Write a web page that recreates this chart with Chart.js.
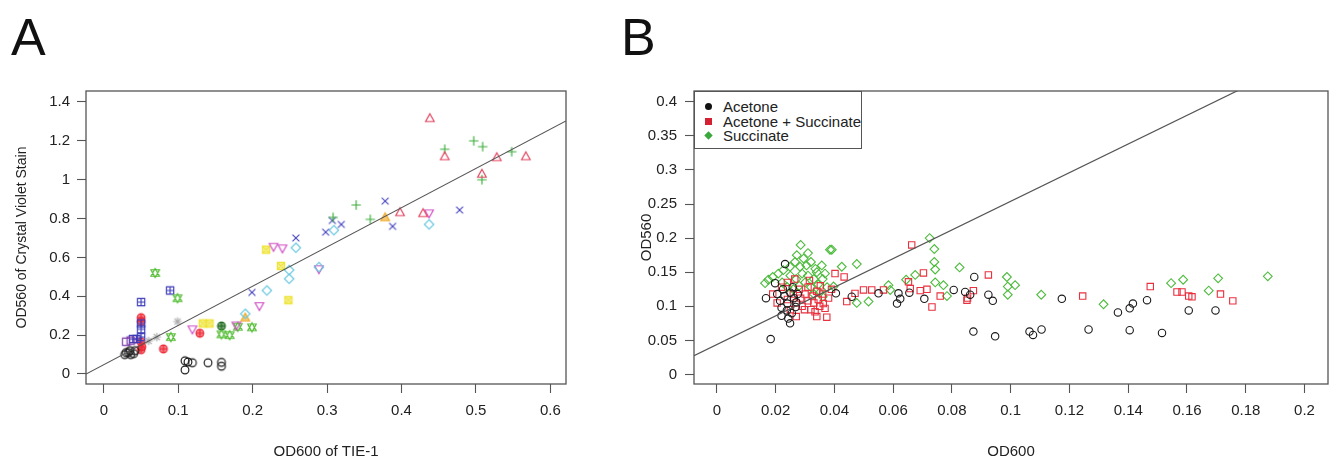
<!DOCTYPE html>
<html>
<head>
<meta charset="utf-8">
<script src="https://cdn.jsdelivr.net/npm/chart.js@4.4.1/dist/chart.umd.min.js"></script>
<style>
  html, body { margin: 0; padding: 0; background: #fff; overflow: hidden; }
  #page { position: relative; width: 1337px; height: 461px; font-family: "Liberation Sans", Arial, sans-serif; }
  .panel { position: absolute; font-size: 52px; line-height: 1; color: #111; }
  #wrapA { position: absolute; left: 0; top: 0; width: 620px; height: 461px; }
  #wrapB { position: absolute; left: 620px; top: 0; width: 717px; height: 461px; }
  #legendB { position: absolute; left: 694px; top: 91px; width: 168px; height: 58px; border: 1.3px solid #555; background: #fff; box-sizing: border-box; font-size: 15px; color: #222; }
  .lrow { position: absolute; left: 0; height: 15px; line-height: 15px; }
  .ltxt { position: absolute; left: 28px; top: 0; white-space: nowrap; }
  .lsym { position: absolute; left: 10px; top: 4px; width: 7px; height: 7px; }
</style>
</head>
<body>
<div id="page">
  <div class="panel" style="left:11px; top:11px;">A</div>
  <div class="panel" style="left:621px; top:11px;">B</div>
  <div id="wrapA"><canvas id="chartA" width="620" height="461"></canvas></div>
  <div id="wrapB"><canvas id="chartB" width="717" height="461"></canvas></div>
  <div id="legendB">
    <div class="lrow" style="top:7px"><div class="lsym" style="background:#111;border-radius:50%"></div><div class="ltxt">Acetone</div></div>
    <div class="lrow" style="top:21.5px"><div class="lsym" style="background:#d42030;"></div><div class="ltxt">Acetone + Succinate</div></div>
    <div class="lrow" style="top:36px"><div class="lsym" style="background:#3aa83a;transform:rotate(45deg) scale(0.85);"></div><div class="ltxt">Succinate</div></div>
  </div>
</div>
<script>
// ---------------- Panel A data (OD600 of TIE-1 vs OD560 crystal violet) ----------------
const a_blackCircX = [0.028, 0.033, 0.036, 0.040, 0.042, 0.035, 0.030, 0.109, 0.119, 0.109, 0.113, 0.140, 0.158, 0.158];
const a_blackCircY = [0.100, 0.110, 0.100, 0.105, 0.120, 0.120, 0.110, 0.068, 0.058, 0.021, 0.062, 0.058, 0.060, 0.040];
const a_redTriX = [0.438, 0.458, 0.528, 0.567, 0.508, 0.398, 0.429];
const a_redTriY = [1.316, 1.120, 1.115, 1.120, 1.030, 0.832, 0.827];
const a_greenPlusX = [0.458, 0.497, 0.509, 0.548, 0.508, 0.339, 0.308, 0.358];
const a_greenPlusY = [1.157, 1.200, 1.170, 1.144, 1.000, 0.870, 0.806, 0.796];
const a_blueXX = [0.378, 0.478, 0.388, 0.298, 0.319, 0.307, 0.258, 0.199];
const a_blueXY = [0.890, 0.844, 0.760, 0.730, 0.770, 0.790, 0.700, 0.420];
const a_cyanDiaX = [0.437, 0.309, 0.258, 0.249, 0.249, 0.219, 0.190, 0.289];
const a_cyanDiaY = [0.770, 0.740, 0.650, 0.535, 0.490, 0.430, 0.310, 0.550];
const a_magInvX = [0.437, 0.228, 0.240, 0.289, 0.209, 0.119, 0.178];
const a_magInvY = [0.827, 0.655, 0.647, 0.540, 0.350, 0.230, 0.250];
const a_yellowSqX = [0.218, 0.238, 0.248, 0.133, 0.142];
const a_yellowSqY = [0.640, 0.556, 0.380, 0.260, 0.260];
const a_grayStarX = [0.099, 0.071, 0.060];
const a_grayStarY = [0.270, 0.190, 0.170];
const a_greenHgX = [0.069, 0.099, 0.090, 0.158, 0.169, 0.180, 0.199];
const a_greenHgY = [0.520, 0.390, 0.190, 0.204, 0.200, 0.243, 0.240];
const a_blueSqPX = [0.050, 0.089, 0.050, 0.050, 0.050, 0.039, 0.044];
const a_blueSqPY = [0.370, 0.430, 0.260, 0.230, 0.190, 0.180, 0.180];
const a_redCPX = [0.050, 0.050, 0.051, 0.050, 0.080, 0.129, 0.050];
const a_redCPY = [0.290, 0.166, 0.140, 0.125, 0.129, 0.210, 0.270];
const a_dkGreenX = [0.158];
const a_dkGreenY = [0.247];
const a_orangeTriX = [0.378, 0.190];
const a_orangeTriY = [0.806, 0.290];
const a_purpleSqX = [0.030, 0.036];
const a_purpleSqY = [0.166, 0.172];
const fitA = { slope: 2.02, intercept: 0.048 };
const xTicksA = [0, 0.1, 0.2, 0.3, 0.4, 0.5, 0.6];
const yTicksA = [0, 0.2, 0.4, 0.6, 0.8, 1, 1.2, 1.4];

// ---------------- Panel B data (OD600 vs OD560) ----------------
const acetoneX = [0.0183, 0.0167, 0.0198, 0.0232, 0.0243, 0.0249, 0.0255, 0.0220, 0.0215, 0.0230, 0.0240, 0.0250, 0.0262, 0.0268, 0.0225, 0.0205, 0.0270, 0.0238, 0.0258, 0.0220, 0.0275,
  0.0405, 0.0459, 0.0550, 0.0613, 0.0618, 0.0624, 0.0655, 0.0706, 0.0806, 0.0845, 0.0862, 0.0876, 0.0924, 0.0939, 0.1174, 0.1365, 0.1405, 0.1416, 0.1464, 0.1606, 0.1697,
  0.0873, 0.0947, 0.1064, 0.1076, 0.1105, 0.1265, 0.1405, 0.1515];
const acetoneY = [0.052, 0.112, 0.134, 0.162, 0.082, 0.075, 0.090, 0.098, 0.108, 0.115, 0.104, 0.120, 0.112, 0.099, 0.125, 0.118, 0.106, 0.094, 0.128, 0.086, 0.118,
  0.119, 0.114, 0.119, 0.104, 0.119, 0.111, 0.120, 0.111, 0.124, 0.121, 0.117, 0.143, 0.117, 0.108, 0.111, 0.091, 0.097, 0.104, 0.109, 0.094, 0.094,
  0.063, 0.056, 0.063, 0.058, 0.066, 0.066, 0.065, 0.061];
const acSuccX = [0.0190, 0.0205, 0.0220, 0.0240, 0.0250, 0.0260, 0.0270, 0.0280, 0.0285, 0.0290, 0.0300, 0.0310, 0.0310, 0.0320, 0.0325, 0.0330, 0.0340, 0.0345, 0.0350, 0.0360, 0.0362, 0.0368, 0.0374, 0.0334, 0.0298, 0.0380, 0.0390, 0.0270, 0.0315, 0.0352, 0.0240, 0.0265, 0.0340,
  0.0402, 0.0433, 0.0442, 0.0470, 0.0499, 0.0527, 0.0567, 0.0652, 0.0658, 0.0663, 0.0703, 0.0692, 0.0715, 0.0760, 0.0732, 0.0853, 0.0873, 0.0851, 0.0924, 0.1245, 0.1475, 0.1566, 0.1583, 0.1606, 0.1617, 0.1714, 0.1756];
const acSuccY = [0.118, 0.105, 0.128, 0.110, 0.095, 0.118, 0.105, 0.125, 0.112, 0.100, 0.118, 0.108, 0.128, 0.095, 0.115, 0.105, 0.122, 0.110, 0.100, 0.118, 0.104, 0.097, 0.084, 0.092, 0.095, 0.112, 0.125, 0.085, 0.138, 0.130, 0.135, 0.140, 0.085,
  0.148, 0.143, 0.107, 0.119, 0.124, 0.124, 0.124, 0.136, 0.126, 0.190, 0.149, 0.123, 0.125, 0.115, 0.099, 0.112, 0.123, 0.109, 0.146, 0.115, 0.129, 0.121, 0.121, 0.115, 0.114, 0.118, 0.108];
const succX = [0.0285, 0.0385, 0.0272, 0.0266, 0.0283, 0.0226, 0.0249, 0.0209, 0.0190, 0.0175, 0.0164,
  0.0250, 0.0270, 0.0290, 0.0300, 0.0310, 0.0320, 0.0330, 0.0340, 0.0345, 0.0350, 0.0360, 0.0375, 0.0280, 0.0260, 0.0305, 0.0320, 0.0335, 0.0295, 0.0310, 0.0222, 0.0240, 0.0360, 0.0330,
  0.0391, 0.0357, 0.0368, 0.0397, 0.0425, 0.0476, 0.0476, 0.0516, 0.0584, 0.0590, 0.0644, 0.0675, 0.0724, 0.0740, 0.0740, 0.0743, 0.0743, 0.0771, 0.0783, 0.0826, 0.0987, 0.0990, 0.1015, 0.0990, 0.1104, 0.1316, 0.1546, 0.1587, 0.1674, 0.1706, 0.1875];
const succY = [0.190, 0.183, 0.175, 0.165, 0.158, 0.153, 0.158, 0.148, 0.143, 0.139, 0.134,
  0.145, 0.140, 0.148, 0.135, 0.145, 0.128, 0.140, 0.150, 0.132, 0.120, 0.140, 0.128, 0.130, 0.125, 0.160, 0.165, 0.155, 0.170, 0.178, 0.135, 0.128, 0.114, 0.118,
  0.183, 0.160, 0.148, 0.129, 0.158, 0.162, 0.105, 0.107, 0.131, 0.124, 0.139, 0.146, 0.200, 0.184, 0.165, 0.154, 0.135, 0.131, 0.115, 0.157, 0.143, 0.129, 0.131, 0.117, 0.117, 0.103, 0.134, 0.139, 0.123, 0.141, 0.144];
const fitB = { slope: 2.1, intercept: 0.044 };
const xTicksB = [0, 0.02, 0.04, 0.06, 0.08, 0.1, 0.12, 0.14, 0.16, 0.18, 0.2];
const yTicksB = [0, 0.05, 0.1, 0.15, 0.2, 0.25, 0.3, 0.35, 0.4];

// ---------------- helpers ----------------
const FONT = '"Liberation Sans", Arial, sans-serif';
const pts = (xs, ys) => xs.map((x, i) => ({ x: x, y: ys[i] }));
const fmt = v => String(+(+v).toFixed(3));

function sym(kind, color, fill) {
  const s = 14, c = document.createElement('canvas');
  c.width = s; c.height = s;
  const g = c.getContext('2d');
  g.strokeStyle = color; g.fillStyle = color; g.lineWidth = 1.15;
  const m = s / 2, r = 4.3;
  const tri = (dir) => { g.moveTo(m, m - dir * r * 1.05); g.lineTo(m + r, m + dir * r * 0.75); g.lineTo(m - r, m + dir * r * 0.75); g.closePath(); };
  const sq = () => g.rect(m - r * 0.85, m - r * 0.85, r * 1.7, r * 1.7);
  const plus = (k) => { g.moveTo(m - r * k, m); g.lineTo(m + r * k, m); g.moveTo(m, m - r * k); g.lineTo(m, m + r * k); };
  const cross = (k) => { g.moveTo(m - r * k, m - r * k); g.lineTo(m + r * k, m + r * k); g.moveTo(m + r * k, m - r * k); g.lineTo(m - r * k, m + r * k); };
  g.beginPath();
  switch (kind) {
    case 'circle': g.arc(m, m, r * 0.9, 0, Math.PI * 2); break;
    case 'triUp': tri(1); break;
    case 'triDown': tri(-1); break;
    case 'plus': plus(1.1); break;
    case 'x': cross(0.8); break;
    case 'diamond': g.moveTo(m, m - r * 1.1); g.lineTo(m + r * 1.1, m); g.lineTo(m, m + r * 1.1); g.lineTo(m - r * 1.1, m); g.closePath(); break;
    case 'sqX': sq(); cross(0.85); break;
    case 'star': plus(1.0); cross(0.72); break;
    case 'david': tri(1); tri(-1); break;
    case 'sqPlus': sq(); plus(0.85); break;
    case 'cPlus': g.arc(m, m, r * 0.9, 0, Math.PI * 2); plus(0.9); break;
    case 'square': sq(); break;
  }
  if (fill) { g.globalAlpha = 0.6; g.fill(); g.globalAlpha = 1; }
  g.stroke();
  return c;
}

const boxPlugin = {
  id: 'box',
  afterDraw(chart) {
    const a = chart.chartArea, ctx = chart.ctx;
    ctx.save();
    ctx.strokeStyle = '#555'; ctx.lineWidth = 1.3;
    ctx.strokeRect(a.left, a.top, a.right - a.left, a.bottom - a.top);
    ctx.restore();
  }
};

function axisCfg(ticksArr, min, max, size, title, isX, titlePad, tickPad, titleSize) {
  return {
    type: 'linear', min: min, max: max,
    afterBuildTicks: sc => { sc.ticks = ticksArr.map(v => ({ value: v })); },
    afterFit: sc => { if (isX) sc.height = size; else sc.width = size; },
    grid: { display: true, drawOnChartArea: false, drawTicks: true, tickLength: 9, tickColor: '#555', tickWidth: 1.1 },
    border: { display: false },
    ticks: { color: '#222', font: { family: FONT, size: 15 }, padding: tickPad, callback: v => fmt(v), maxRotation: 0, autoSkip: false },
    title: { display: true, text: title, color: '#222', font: { family: FONT, size: titleSize }, padding: titlePad }
  };
}

function fitLine(fit, x0, x1) {
  return {
    type: 'line',
    data: [{ x: x0, y: fit.intercept + fit.slope * x0 }, { x: x1, y: fit.intercept + fit.slope * x1 }],
    borderColor: '#555', borderWidth: 1.2, pointRadius: 0, fill: false, order: 0
  };
}

// ---------------- Chart A ----------------
const xMinA = -0.024, xMaxA = 0.621, yMinA = -0.0515, yMaxA = 1.4565;
const seriesA = [
  [a_blackCircX, a_blackCircY, sym('circle', '#1a1a1a')],
  [a_purpleSqX, a_purpleSqY, sym('square', '#7a3aa8')],
  [a_redTriX, a_redTriY, sym('triUp', '#e3405c')],
  [a_greenPlusX, a_greenPlusY, sym('plus', '#3cae3c')],
  [a_blueXX, a_blueXY, sym('x', '#4a48c0')],
  [a_cyanDiaX, a_cyanDiaY, sym('diamond', '#6cc8e0')],
  [a_magInvX, a_magInvY, sym('triDown', '#cf4cc4')],
  [a_yellowSqX, a_yellowSqY, sym('sqX', '#eee43a', true)],
  [a_grayStarX, a_grayStarY, sym('star', '#aaaaaa')],
  [a_greenHgX, a_greenHgY, sym('david', '#4cba2c')],
  [a_blueSqPX, a_blueSqPY, sym('sqPlus', '#3a3ab8')],
  [a_redCPX, a_redCPY, sym('cPlus', '#ee2a36', true)],
  [a_dkGreenX, a_dkGreenY, sym('cPlus', '#1f6a1f', true)],
  [a_orangeTriX, a_orangeTriY, sym('triUp', '#f0a820', true)]
];
new Chart(document.getElementById('chartA'), {
  type: 'scatter',
  data: {
    datasets: seriesA.map(s => ({ data: pts(s[0], s[1]), pointStyle: s[2], pointRadius: 5, order: 1 }))
      .concat([fitLine(fitA, xMinA, xMaxA)])
  },
  options: {
    responsive: false, animation: false, devicePixelRatio: 1,
    layout: { padding: { left: 0, top: 91, right: 54, bottom: 0 } },
    plugins: { legend: { display: false }, tooltip: { enabled: false } },
    scales: {
      x: axisCfg(xTicksA, xMinA, xMaxA, 77, 'OD600 of TIE-1', true, { top: 0, bottom: 0 }, 9, 15),
      y: axisCfg(yTicksA, yMinA, yMaxA, 86, 'OD560 of Crystal Violet Stain', false, { top: 14, bottom: 0 }, 7, 14)
    }
  },
  plugins: [boxPlugin]
});

// ---------------- Chart B ----------------
const xMinB = -0.0078, xMaxB = 0.208, yMinB = -0.0139, yMaxB = 0.4157;
new Chart(document.getElementById('chartB'), {
  type: 'scatter',
  data: {
    datasets: [
      { label: 'Acetone', data: pts(acetoneX, acetoneY), pointStyle: 'circle', pointRadius: 3.7, borderColor: '#1a1a1a', backgroundColor: 'rgba(0,0,0,0)', borderWidth: 1.1, order: 1 },
      { label: 'Acetone + Succinate', data: pts(acSuccX, acSuccY), pointStyle: 'rect', pointRadius: 4.5, borderColor: '#e8303f', backgroundColor: 'rgba(0,0,0,0)', borderWidth: 1.1, order: 1 },
      { label: 'Succinate', data: pts(succX, succY), pointStyle: 'rectRot', pointRadius: 4.4, borderColor: '#4cbb3c', backgroundColor: 'rgba(0,0,0,0)', borderWidth: 1.1, order: 1 },
      fitLine(fitB, xMinB, xMaxB)
    ]
  },
  options: {
    responsive: false, animation: false, devicePixelRatio: 1,
    layout: { padding: { left: 0, top: 91, right: 9, bottom: 0 } },
    plugins: { legend: { display: false }, tooltip: { enabled: false } },
    scales: {
      x: axisCfg(xTicksB, xMinB, xMaxB, 77, 'OD600', true, { top: 0, bottom: 0 }, 9, 15),
      y: axisCfg(yTicksB, yMinB, yMaxB, 74, 'OD560', false, { top: 18, bottom: 0 }, 8, 15)
    }
  },
  plugins: [boxPlugin]
});
</script>
</body>
</html>
